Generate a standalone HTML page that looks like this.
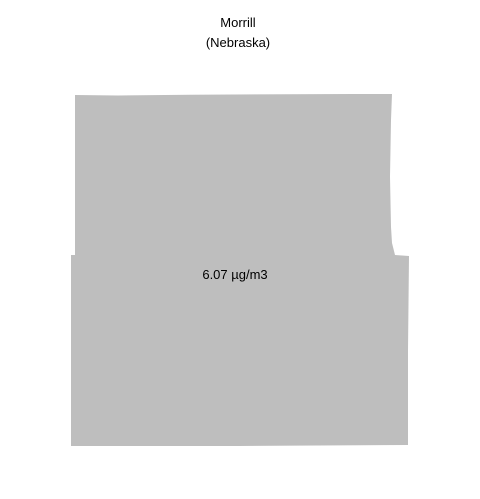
<!DOCTYPE html>
<html><head><meta charset="utf-8"><style>
body{margin:0;background:#fff;}
svg{display:block;font-family:"Liberation Sans",sans-serif;}
</style></head><body>
<svg width="480" height="499">
<text x="238" y="27" text-anchor="middle" font-size="13" fill="#000">Morrill</text>
<text x="238" y="47" text-anchor="middle" font-size="13" fill="#000">(Nebraska)</text>
<path fill="#bebebe"
d="M75,95 L118,95.5 L190,94.7 L353,94 L392,94 L391,120 L390,177 L391,227 L392,243 L395,255 L409,256 L408,350 L408,445 L238,446 L71,446 L71,255 L75,255 Z"/>
<text x="235" y="279" text-anchor="middle" font-size="13" fill="#000">6.07 µg/m3</text>
</svg>
</body></html>
